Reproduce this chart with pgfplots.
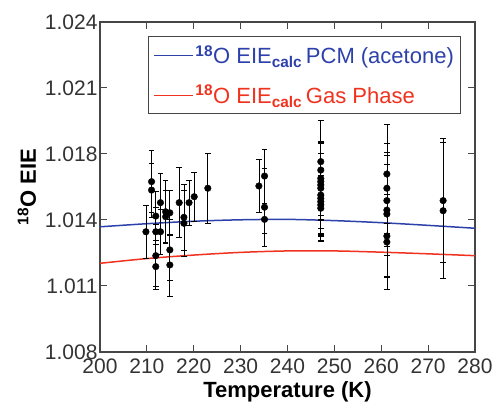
\documentclass[border=0pt]{standalone}
\usepackage{pgfplots}
\pgfplotsset{compat=1.18}
\usepackage{pgfplotstable}
\usepackage{fontspec}
\setmainfont{Liberation Sans}
\definecolor{pcmblue}{RGB}{45,65,170}
\definecolor{gasred}{RGB}{240,50,30}
\definecolor{axgray}{RGB}{70,70,70}

\pgfplotstableread{
T EIE err
209.8 1.01383 0.0013
211.0 1.01626 0.0015
211.0 1.01585 0.0013
211.9 1.01459 0.0012
211.9 1.01383 0.0012
211.9 1.01267 0.0015
211.9 1.01214 0.0011
212.9 1.01524 0.0014
212.9 1.01383 0.0011
214.0 1.01480 0.0015
214.0 1.01456 0.0013
214.9 1.01475 0.0011
214.9 1.01295 0.0015
214.9 1.01222 0.0015
216.9 1.01524 0.0017
217.9 1.01453 0.0016
217.9 1.01424 0.0016
219.0 1.01524 0.0011
220.1 1.01553 0.0012
223.0 1.01594 0.0017
233.9 1.01605 0.0013
235.1 1.01653 0.0013
235.1 1.01502 0.0019
235.1 1.01443 0.0007
247.1 1.01723 0.0020
247.1 1.01682 0.0024
247.1 1.01642 0.0018
247.1 1.01626 0.0019
247.1 1.01610 0.0021
247.1 1.01594 0.0022
247.1 1.01561 0.0020
247.1 1.01545 0.0018
247.1 1.01529 0.0016
247.1 1.01513 0.0017
247.1 1.01497 0.0016
261.2 1.01663 0.0024
261.2 1.01594 0.0022
261.2 1.01534 0.0022
261.2 1.01488 0.0022
261.2 1.01469 0.0030
261.2 1.01362 0.0020
261.2 1.01333 0.0023
273.2 1.01534 0.0030
273.2 1.01485 0.0033
}\expdata

\pgfplotstableread{
T EIE
200 1.01407
210 1.01422
220 1.01434
230 1.01441
240 1.01443
250 1.01437
260 1.01427
270 1.01414
280 1.01400
}\pcm

\pgfplotstableread{
T EIE
200 1.01230
210 1.01253
220 1.01270
230 1.01283
240 1.01290
250 1.01290
260 1.01284
270 1.01276
280 1.01267
}\gas

\newcommand{\eie}{\textsuperscript{\textbf{18}}O EIE\textsubscript{\textbf{calc}}\,}

\begin{document}
\begin{tikzpicture}
\path[use as bounding box] (-100bp,-52bp) rectangle (393bp,352bp);
\begin{axis}[
  scale only axis,
  width=375bp, height=330bp,
  xmin=200, xmax=280, ymin=1.008, ymax=1.024,
  xtick={200,210,...,280},
  ytick={1.008,1.0112,1.0144,1.0176,1.0208,1.024},
  yticklabels={1.008,1.011,1.014,1.018,1.021,1.024},
  tick align=inside,
  major tick length=7bp,
  minor tick num=0,
  axis line style={axgray, line width=1.2bp},
  tick style={axgray, line width=1bp},
  xticklabel style={/pgf/number format/assume math mode=true, font=\fontsize{21bp}{22bp}\selectfont, text=black!80, yshift=-3bp},
  yticklabel style={font=\fontsize{21bp}{22bp}\selectfont, text=black!80, xshift=1bp},
  /pgf/number format/assume math mode=true,
  xlabel={\textbf{Temperature (K)}},
  ylabel={\textbf{\textsuperscript{18}O EIE}},
  label style={font=\fontsize{22bp}{24bp}\selectfont},
  xlabel style={yshift=-1bp},
  ylabel style={yshift=2bp},
  clip=false,
  legend style={at={(0.128,0.9576)}, anchor=north west, draw=axgray, line width=1bp,
    font=\fontsize{22bp}{26bp}\selectfont, inner xsep=5bp, inner ysep=7bp, row sep=16bp,
    /tikz/every even column/.append style={column sep=2bp}},
  legend cell align=left,
  legend image code/.code={\draw[#1, line width=1bp] (0bp,0bp) -- (39bp,0bp);},
]
\addplot[pcmblue, line width=1.5bp, smooth, no marks] table[x=T, y=EIE] {\pcm};
\addlegendentry{\textcolor{pcmblue}{\eie PCM (acetone)}}
\addplot[gasred, line width=1.5bp, smooth, no marks] table[x=T, y=EIE] {\gas};
\addlegendentry{\textcolor{gasred}{\eie Gas Phase}}
\addplot[only marks, mark=*, mark size=3.3bp, black,
  error bars/.cd, y dir=both, y explicit,
  error bar style={black, line width=0.7bp},
  error mark options={rotate=90, mark size=2.8bp, line width=0.7bp}]
  table[x=T, y=EIE, y error=err] {\expdata};
\end{axis}
\end{tikzpicture}
\end{document}
